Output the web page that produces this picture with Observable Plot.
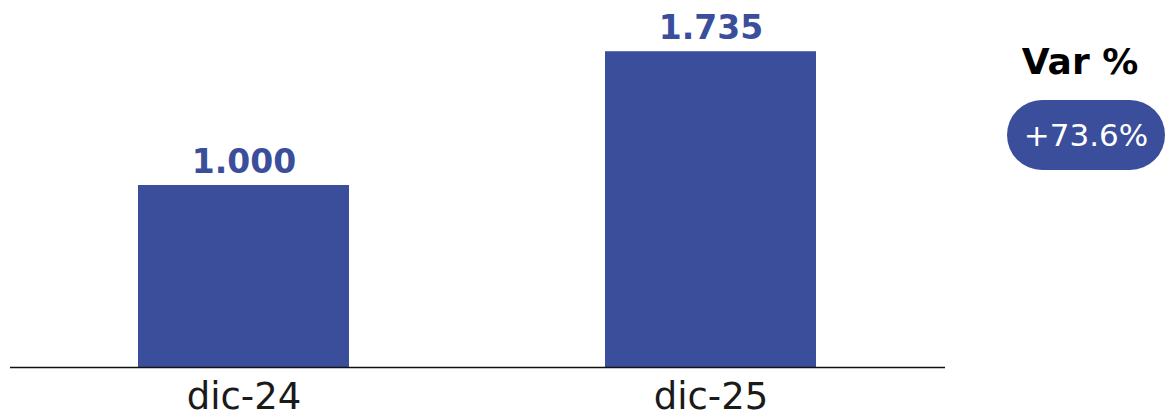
<!DOCTYPE html>
<html>
<head>
<meta charset="utf-8">
<script src="https://cdn.jsdelivr.net/npm/d3@7"></script>
<script src="https://cdn.jsdelivr.net/npm/@observablehq/plot@0.6"></script>
<style>
  html, body { margin: 0; padding: 0; background: #fff; }
  #wrap { position: relative; width: 1166px; height: 419px; overflow: hidden; }
  #var-title { position: absolute; left: 1000px; top: 40px; width: 160px; text-align: center;
    font-family: "DejaVu Sans", sans-serif; font-weight: bold; font-size: 36px; color: #000; line-height: 44px; }
  #var-pill { position: absolute; left: 1007px; top: 100px; width: 158px; height: 70px; border-radius: 35px;
    background: #3a4e9b; color: #fff; font-family: "DejaVu Sans", sans-serif; font-size: 31px;
    display: flex; align-items: center; justify-content: center; }
</style>
</head>
<body>
<div id="wrap">
  <div id="chart"></div>
  <div id="var-title"></div>
  <div id="var-pill"></div>
</div>
<script>
const categories = ["dic-24", "dic-25"];
const values = [1000, 1735];
const varTitle = "Var %";
const varLabel = "+73.6%";

const barColor = "#3a4e9b";
const data = categories.map((c, i) => ({category: c, value: values[i]}));
const loc = d3.formatLocale({decimal: ",", thousands: ".", grouping: [3], currency: ["", ""]});
const fmt = loc.format(",");

const chart = Plot.plot({
  width: 1166,
  height: 419,
  marginLeft: 10,
  marginRight: 221,
  marginTop: 3,
  marginBottom: 52,
  style: {fontFamily: "DejaVu Sans, sans-serif", background: "#fff"},
  x: {domain: categories, paddingInner: 0.548, paddingOuter: 0.274, label: null},
  y: {domain: [0, 2000], axis: null},
  marks: [
    Plot.barY(data, {x: "category", y: "value", fill: barColor}),
    Plot.text(data, {x: "category", y: "value", text: d => fmt(d.value), dy: -13, lineAnchor: "bottom",
      fill: barColor, fontWeight: "bold", fontSize: 33}),
    Plot.ruleY([0], {stroke: "#111", strokeWidth: 1.5}),
    Plot.axisX({tickSize: 0, tickPadding: 15, fontSize: 37, fill: "#1a1a1a", label: null})
  ]
});
document.getElementById("chart").appendChild(chart);
document.getElementById("var-title").textContent = varTitle;
document.getElementById("var-pill").textContent = varLabel;
</script>
</body>
</html>
